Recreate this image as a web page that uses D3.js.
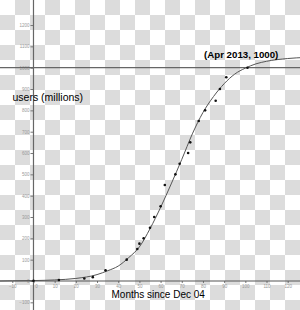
<!DOCTYPE html>
<meta charset="utf-8">
<head>
<title>Users over time</title>
<style>
body { margin: 0; background: #fff; }
svg text { font-family: "Liberation Sans", Arial, sans-serif; }
.tick text { fill: #999; font-size: 4.5px; }
.tick line { stroke: #777; }
</style>
</head>
<body>
<div id="chart"></div>
<script src="https://cdnjs.cloudflare.com/ajax/libs/d3/7.8.5/d3.min.js"></script>
<script>
var width = 300,
    height = 310;

// observed points (months since Dec 04, users in millions)
var months = [0, 12, 24, 28, 34, 44, 49, 50, 52, 55, 57, 60, 62, 67, 69, 73, 74, 78, 81, 86, 88, 91, 101];
var users  = [1, 5, 12, 18, 50, 100, 150, 175, 200, 250, 300, 350, 450, 500, 550, 600, 650, 750, 800, 845, 900, 955, 1000];

// fitted curve
var curveMonths = [-16, -10, 0, 10, 20, 30, 35, 40, 45, 50, 55, 60, 65, 70, 75, 80, 85, 90, 95, 100, 105, 110, 120, 128];
var curveUsers  = [0, 1, 2, 5, 12, 30, 48, 70, 110, 160, 245, 345, 455, 570, 690, 790, 865, 925, 970, 998, 1018, 1030, 1043, 1048];

var xTicks = [-10, 0, 10, 20, 30, 40, 50, 60, 70, 80, 90, 100, 110, 120];
var yTicks = [-100, 0, 100, 200, 300, 400, 500, 600, 700, 800, 900, 1000, 1100, 1200];

var x = d3.scaleLinear().domain([-10, 120]).range([12.3, 287.7]);
var y = d3.scaleLinear().domain([0, 1000]).range([281, 67.7]);

var svg = d3.select("#chart").append("svg")
    .attr("width", width)
    .attr("height", height);

// transparent-background checkerboard
var cell = 15;
var cells = [];
d3.range(Math.ceil(height / cell)).forEach(function(r) {
    d3.range(Math.ceil(width / cell)).forEach(function(c) {
        if ((r + c) % 2 == 1) cells.push([c, r]);
    });
});
svg.append("g").selectAll("rect")
    .data(cells)
    .enter().append("rect")
    .attr("x", function(d) { return d[0] * cell; })
    .attr("y", function(d) { return d[1] * cell; })
    .attr("width", cell)
    .attr("height", cell)
    .attr("fill", "#dcdcdc");

// axes
var yAxis = d3.axisLeft(y).tickValues(yTicks).tickFormat(d3.format("d")).tickSize(3).tickPadding(1);
var gy = svg.append("g")
    .attr("transform", "translate(" + x(0) + ",0)")
    .call(yAxis);
gy.select(".domain").remove();

var xAxis = d3.axisBottom(x).tickValues(xTicks).tickFormat(d3.format("d")).tickSize(2).tickPadding(1.5);
var gx = svg.append("g")
    .attr("transform", "translate(0," + y(0) + ")")
    .call(xAxis);
gx.select(".domain").remove();
gx.selectAll(".tick text").filter(function(d) { return d == 0; }).attr("dx", 2.5);

svg.append("line")
    .attr("x1", x(0)).attr("x2", x(0))
    .attr("y1", 0).attr("y2", height)
    .attr("stroke", "#666").attr("stroke-width", 1.2);
svg.append("line")
    .attr("x1", 0).attr("x2", width)
    .attr("y1", y(0)).attr("y2", y(0))
    .attr("stroke", "#555").attr("stroke-width", 1.2);

// y = 1000 line
svg.append("line")
    .attr("x1", 0).attr("x2", width)
    .attr("y1", y(1000)).attr("y2", y(1000))
    .attr("stroke", "#666").attr("stroke-width", 1.2);

// curve
var line = d3.line()
    .x(function(d) { return x(d[0]); })
    .y(function(d) { return y(d[1]); })
    .curve(d3.curveMonotoneX);

svg.append("path")
    .attr("d", line(d3.zip(curveMonths, curveUsers)))
    .attr("fill", "none")
    .attr("stroke", "#555")
    .attr("stroke-width", 1);

// points
svg.append("g").selectAll("circle")
    .data(d3.zip(months, users))
    .enter().append("circle")
    .attr("cx", function(d) { return x(d[0]); })
    .attr("cy", function(d) { return y(d[1]); })
    .attr("r", 1.3)
    .attr("fill", "#111");

// labels
svg.append("text")
    .attr("x", 12.5).attr("y", 101)
    .attr("font-size", 10.5)
    .text("users (millions)");

svg.append("text")
    .attr("x", 111.5).attr("y", 298)
    .attr("font-size", 10)
    .text("Months since Dec 04");

svg.append("text")
    .attr("x", 204).attr("y", 58)
    .attr("font-size", 9.7)
    .attr("font-weight", "bold")
    .text("(Apr 2013, 1000)");
</script>
</body>
